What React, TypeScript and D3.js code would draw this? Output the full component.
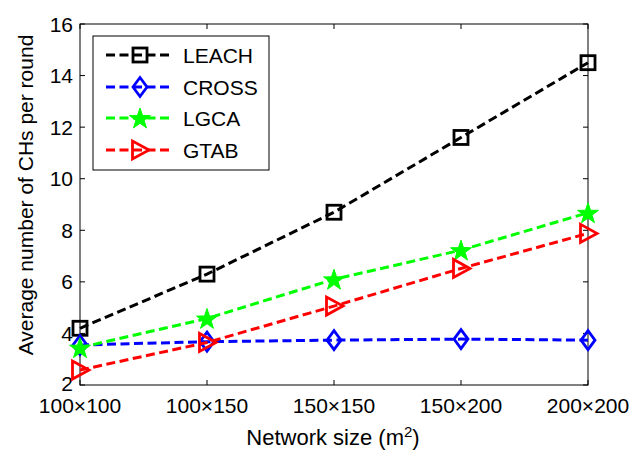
import React from 'react';
import * as d3 from 'd3';

const categories = ['100×100', '100×150', '150×150', '150×200', '200×200'];
const leach = [4.2, 6.3, 8.7, 11.6, 14.5];
const cross = [3.55, 3.68, 3.74, 3.78, 3.74];
const lgca = [3.45, 4.58, 6.1, 7.23, 8.68];
const gtab = [2.58, 3.65, 5.06, 6.52, 7.88];
const yTicks = [2, 4, 6, 8, 10, 12, 14, 16];

const W = 630, H = 453;
const L = 80, R = 588, T = 24, B = 385;
const FONT = 'Liberation Sans, Arial, Helvetica, sans-serif';

type SeriesDef = { name: string; values: number[]; color: string; marker: string };
const series: SeriesDef[] = [
  { name: 'LEACH', values: leach, color: '#000000', marker: 'square' },
  { name: 'CROSS', values: cross, color: '#0000ff', marker: 'diamond' },
  { name: 'LGCA', values: lgca, color: '#00ff00', marker: 'star' },
  { name: 'GTAB', values: gtab, color: '#ff0000', marker: 'triangle' },
];

function starPath(ro: number, ri: number) {
  const pts: [number, number][] = [];
  for (let i = 0; i < 10; i++) {
    const r = i % 2 === 0 ? ro : ri;
    const a = -Math.PI / 2 + (i * Math.PI) / 5;
    pts.push([r * Math.cos(a), r * Math.sin(a)]);
  }
  return 'M' + pts.map((p) => p.join(',')).join('L') + 'Z';
}

function Marker({ type, x, y, color }: { type: string; x: number; y: number; color: string }) {
  const sw = 2.8;
  if (type === 'square') {
    return <rect x={x - 7} y={y - 7} width={14} height={14} fill="none" stroke={color} strokeWidth={sw} />;
  }
  if (type === 'diamond') {
    return <path d={`M${x},${y - 9.5}L${x + 7},${y}L${x},${y + 9.5}L${x - 7},${y}Z`} fill="none" stroke={color} strokeWidth={sw} />;
  }
  if (type === 'star') {
    return <path d={starPath(11, 4.3)} transform={`translate(${x},${y + 1})`} fill={color} stroke={color} strokeWidth={1} />;
  }
  return <path d={`M${x - 7.5},${y - 9}L${x - 7.5},${y + 9}L${x + 9},${y}Z`} fill="none" stroke={color} strokeWidth={sw} strokeLinejoin="miter" />;
}

export default function App() {
  const x = d3.scalePoint<string>().domain(categories).range([L, R]);
  const y = d3.scaleLinear().domain([2, 16]).range([B, T]);
  const line = d3.line<number>().x((_, i) => x(categories[i]) as number).y((d) => y(d));

  const legX = 93, legY = 36, legW = 176, legH = 134;
  const legRows = [55, 87, 118, 150];

  return (
    <svg width={W} height={H} style={{ position: 'absolute', left: 0, top: 0, background: '#fff' }} fontFamily={FONT}>
      <rect width={W} height={H} fill="#fff" />
      {categories.map((c) => (
        <g key={c}>
          <line x1={x(c)} x2={x(c)} y1={B} y2={B - 5} stroke="#000" strokeWidth={1} />
          <line x1={x(c)} x2={x(c)} y1={T} y2={T + 5} stroke="#000" strokeWidth={1} />
          <text x={x(c)} y={413} textAnchor="middle" fontSize={21}>{c}</text>
        </g>
      ))}
      {yTicks.map((t) => (
        <g key={t}>
          <line x1={L} x2={L + 5} y1={y(t)} y2={y(t)} stroke="#000" strokeWidth={1} />
          <line x1={R} x2={R - 5} y1={y(t)} y2={y(t)} stroke="#000" strokeWidth={1} />
          <text x={73} y={y(t) - (t === 2 ? 2 : 0)} dy="0.36em" textAnchor="end" fontSize={21}>{t}</text>
        </g>
      ))}
      <rect x={L} y={T} width={R - L} height={B - T} fill="none" stroke="#000" strokeWidth={1} />
      {series.map((s) => (
        <g key={s.name}>
          <path d={line(s.values) as string} fill="none" stroke={s.color} strokeWidth={3} strokeDasharray="9,4.5" />
          {s.values.map((v, i) => (
            <Marker key={i} type={s.marker} x={x(categories[i]) as number} y={y(v)} color={s.color} />
          ))}
        </g>
      ))}
      <rect x={legX} y={legY} width={legW} height={legH} fill="#fff" stroke="#000" strokeWidth={1} />
      {series.map((s, i) => (
        <g key={s.name}>
          <line x1={106} x2={171} y1={legRows[i]} y2={legRows[i]} stroke={s.color} strokeWidth={3} strokeDasharray="9,4.5" />
          <Marker type={s.marker} x={140} y={legRows[i]} color={s.color} />
          <text x={183} y={legRows[i]} dy="0.36em" fontSize={21}>{s.name}</text>
        </g>
      ))}
      <text x={333} y={445} textAnchor="middle" fontSize={22}>
        Network size (m<tspan dy={-8} fontSize={15}>2</tspan><tspan dy={8}>)</tspan>
      </text>
      <text transform="translate(33,195) rotate(-90)" textAnchor="middle" fontSize={21}>
        Average number of CHs per round
      </text>
    </svg>
  );
}
